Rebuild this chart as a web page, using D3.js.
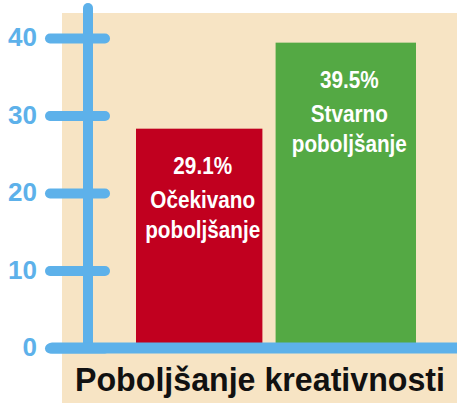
<!DOCTYPE html>
<html>
<head>
<meta charset="utf-8">
<script src="https://cdn.jsdelivr.net/npm/d3@7"></script>
<style>
  body { margin: 0; background: #fff; }
  svg { display: block; }
</style>
</head>
<body>
<script>
// data
var categories = ["Očekivano poboljšanje", "Stvarno poboljšanje"];
var values = [28.3, 39.4];            // bar heights as drawn
var valueLabels = ["29.1%", "39.5%"];
var labelLines = [["Očekivano", "poboljšanje"], ["Stvarno", "poboljšanje"]];
var barColors = ["#c1001f", "#54a944"];
var yTicks = [0, 10, 20, 30, 40];
var title = "Poboljšanje kreativnosti";

var w = 457;
var h = 403;
var blue = "#5db1ea";
var sans = "'Liberation Sans', Arial, sans-serif";

var svg = d3.select("body")
    .append("svg")
    .attr("width", w)
    .attr("height", h);

// beige panel
svg.append("rect")
    .attr("x", 62)
    .attr("y", 13)
    .attr("width", w - 62)
    .attr("height", h - 13)
    .attr("fill", "#f7e4c4");

var yScale = d3.scaleLinear()
    .domain([0, 40])
    .range([348, 38]);

var xScale = d3.scaleBand()
    .domain(categories)
    .range([136, 416])
    .paddingInner(0.09);

// the two bars are not the same width in the original
var widthAdjust = [-7, 7];

//Bars
svg.selectAll("rect.bar")
    .data(values)
    .enter()
    .append("rect")
    .attr("class", "bar")
    .attr("x", function (d, i) {
        return xScale(categories[i]) + (i > 0 ? -widthAdjust[i] : 0);
    })
    .attr("y", function (d) { return yScale(d); })
    .attr("width", function (d, i) { return xScale.bandwidth() + widthAdjust[i]; })
    .attr("height", function (d) { return yScale(0) - yScale(d); })
    .attr("fill", function (d, i) { return barColors[i]; });

// labels inside bars (condensed by squeezing horizontally)
var labels = svg.selectAll("text.inbar")
    .data(values)
    .enter()
    .append("text")
    .attr("class", "inbar")
    .attr("text-anchor", "middle")
    .attr("fill", "#fff")
    .attr("font-family", sans)
    .attr("font-weight", "bold")
    .attr("font-size", "23px")
    .attr("transform", function (d, i) {
        var cx = xScale(categories[i]) + xScale.bandwidth() / 2;
        return "translate(" + cx + "," + (yScale(d) + 45) + ") scale(0.9,1)";
    });

labels.append("tspan")
    .attr("x", 0)
    .attr("y", 0)
    .text(function (d, i) { return valueLabels[i]; });
labels.each(function (d, i) {
    var t = d3.select(this);
    labelLines[i].forEach(function (line, j) {
        t.append("tspan")
            .attr("x", 0)
            .attr("y", 34 + j * 30)
            .text(line);
    });
});

// Y axis
var yAxis = d3.axisLeft()
    .scale(yScale)
    .tickValues(yTicks)
    .tickSize(0)
    .tickPadding(0);

var axisG = svg.append("g")
    .attr("transform", "translate(88,0)")
    .call(yAxis);

axisG.select(".domain").remove();

axisG.selectAll(".tick line")
    .attr("x1", -38)
    .attr("x2", 17)
    .attr("stroke", blue)
    .attr("stroke-width", 10)
    .attr("stroke-linecap", "round");

axisG.selectAll(".tick text")
    .attr("x", -51)
    .attr("dy", "0.3em")
    .attr("fill", blue)
    .attr("font-family", sans)
    .attr("font-weight", "bold")
    .attr("font-size", "26px");

// vertical stem
axisG.append("line")
    .attr("x1", 0)
    .attr("x2", 0)
    .attr("y1", yScale(40) - 30)
    .attr("y2", yScale(0))
    .attr("stroke", blue)
    .attr("stroke-width", 10)
    .attr("stroke-linecap", "round");

// baseline
svg.append("line")
    .attr("x1", 52)
    .attr("x2", w + 10)
    .attr("y1", yScale(0))
    .attr("y2", yScale(0))
    .attr("stroke", blue)
    .attr("stroke-width", 11)
    .attr("stroke-linecap", "round");

// title under the chart
svg.append("text")
    .attr("x", 75)
    .attr("y", 391)
    .attr("font-family", sans)
    .attr("font-weight", "bold")
    .attr("font-size", "33px")
    .attr("textLength", 370)
    .attr("lengthAdjust", "spacingAndGlyphs")
    .attr("fill", "#111")
    .text(title);
</script>
</body>
</html>
